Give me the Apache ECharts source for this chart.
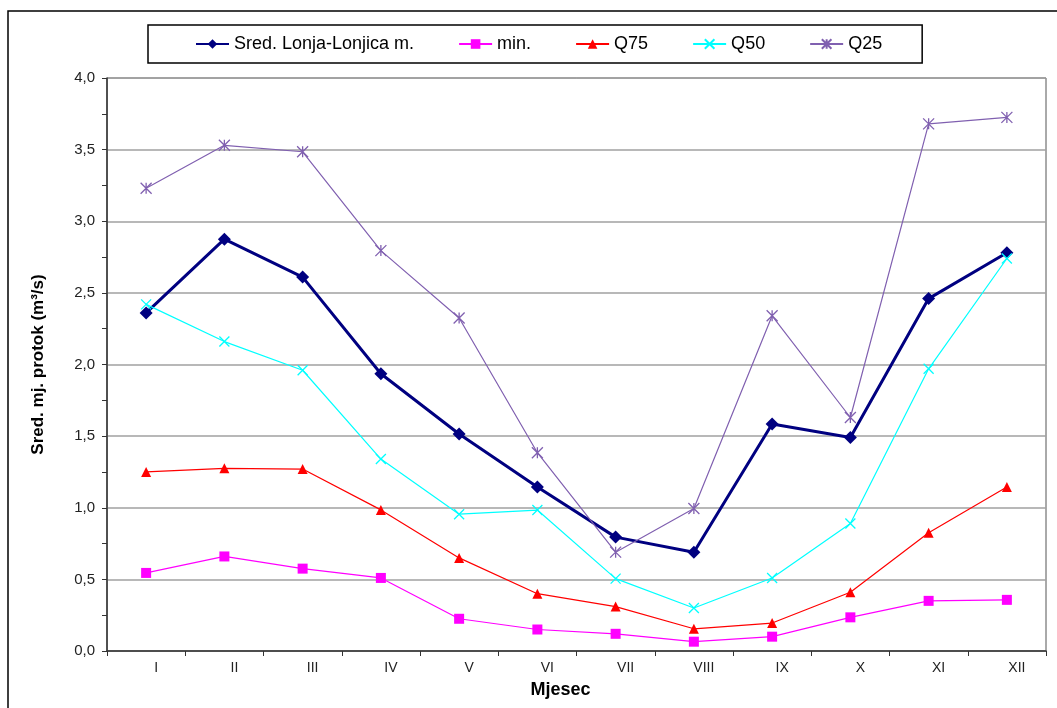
<!DOCTYPE html>
<html>
<head>
<meta charset="utf-8">
<title>Sred. mj. protok</title>
<script src="https://cdn.jsdelivr.net/npm/echarts@6/dist/echarts.min.js"></script>
<style>
    html, body { margin: 0; padding: 0; background: #fff; }
    #chart { width: 1057px; height: 708px; }
</style>
</head>
<body>
<div id="chart"></div>
<script>
// Monthly mean discharge, Lonja-Lonjica
const MONTHS = ['I', 'II', 'III', 'IV', 'V', 'VI', 'VII', 'VIII', 'IX', 'X', 'XI', 'XII'];
const SRED = [2.36, 2.875, 2.61, 1.935, 1.515, 1.145, 0.795, 0.69, 1.585, 1.49, 2.46, 2.78];
const MIN_VALS = [0.545, 0.66, 0.575, 0.51, 0.225, 0.15, 0.12, 0.065, 0.10, 0.235, 0.35, 0.357];
const Q75 = [1.25, 1.275, 1.27, 0.985, 0.65, 0.40, 0.31, 0.155, 0.195, 0.41, 0.825, 1.145];
const Q50 = [2.42, 2.16, 1.96, 1.34, 0.955, 0.984, 0.505, 0.30, 0.51, 0.89, 1.97, 2.74];
const Q25 = [3.23, 3.53, 3.485, 2.795, 2.325, 1.384, 0.69, 0.995, 2.34, 1.63, 3.68, 3.725];

const FONT = '"Liberation Sans", Arial, sans-serif';

const COLORS = {
    sred: '#000080',
    min: '#ff00ff',
    q75: '#ff0000',
    q50: '#00ffff',
    q25: '#8060b0'
};

// stroked marker shapes (Excel style x and asterisk)
const CROSS = 'path://M0,0L10,10M10,0L0,10';
const STAR = 'path://M0,0L10,10M10,0L0,10M5,0L5,10';

function lineSeries(name, data, color, symbol, size, width, stroked) {
    return {
        name: name,
        type: 'line',
        data: data,
        symbol: symbol,
        symbolSize: size,
        showAllSymbol: true,
        lineStyle: { color: color, width: width },
        itemStyle: stroked
            ? { color: color, borderColor: color, borderWidth: 1.3 }
            : { color: color, borderWidth: 0 },
        emphasis: { disabled: true },
        animation: false
    };
}

const chart = echarts.init(document.getElementById('chart'));

const option = {
    backgroundColor: '#fff',
    textStyle: { fontFamily: FONT },
    graphic: [{
        type: 'rect',
        shape: { x: 8, y: 11, width: 1100, height: 800 },
        style: { fill: 'none', stroke: '#000', lineWidth: 1.5 },
        silent: true
    }],
    legend: {
        left: 148,
        top: 25,
        padding: [10, 40, 10, 47],
        itemGap: 44,
        itemWidth: 33,
        itemHeight: 12,
        borderColor: '#000',
        borderWidth: 1.5,
        textStyle: { fontFamily: FONT, fontSize: 18, color: '#000' },
        data: ['Sred. Lonja-Lonjica m.', 'min.', 'Q75', 'Q50', 'Q25']
    },
    grid: {
        left: 107,
        right: 11,
        top: 78,
        bottom: 57,
        show: true,
        borderColor: '#555',
        borderWidth: 1
    },
    xAxis: {
        type: 'category',
        data: MONTHS,
        boundaryGap: true,
        name: 'Mjesec',
        nameLocation: 'middle',
        nameGap: 30,
        nameTextStyle: {
            fontFamily: FONT, fontSize: 18, fontWeight: 'bold', color: '#000',
            padding: [0, 32, 0, 0]
        },
        axisLine: { lineStyle: { color: '#333', width: 1.5 } },
        axisTick: { show: true, length: 5, lineStyle: { color: '#333' } },
        axisLabel: {
            color: '#222', fontSize: 14, margin: 10,
            padding: [0, 0, 0, 20], interval: 0
        },
        splitLine: { show: false }
    },
    yAxis: {
        type: 'value',
        min: 0,
        max: 4,
        interval: 0.5,
        name: 'Sred. mj. protok (m³/s)',
        nameLocation: 'middle',
        nameGap: 60,
        nameTextStyle: {
            fontFamily: FONT, fontSize: 17, fontWeight: 'bold', color: '#000'
        },
        axisLine: { show: true, lineStyle: { color: '#333', width: 1.5 } },
        axisTick: { show: true, length: 5, lineStyle: { color: '#333' } },
        minorTick: { show: true, splitNumber: 2, length: 5, lineStyle: { color: '#333' } },
        axisLabel: {
            color: '#222', fontSize: 15, margin: 12,
            formatter: v => v.toFixed(1).replace('.', ',')
        },
        splitLine: { lineStyle: { color: '#a0a0a0', width: 1.5 } }
    },
    series: [
        lineSeries('Sred. Lonja-Lonjica m.', SRED, COLORS.sred, 'diamond', 13, 3, false),
        lineSeries('min.', MIN_VALS, COLORS.min, 'rect', 10, 1.2, false),
        lineSeries('Q75', Q75, COLORS.q75, 'triangle', 10, 1.2, false),
        lineSeries('Q50', Q50, COLORS.q50, CROSS, 10, 1.2, true),
        lineSeries('Q25', Q25, COLORS.q25, STAR, 11, 1.2, true)
    ]
};

chart.setOption(option);
</script>
</body>
</html>
